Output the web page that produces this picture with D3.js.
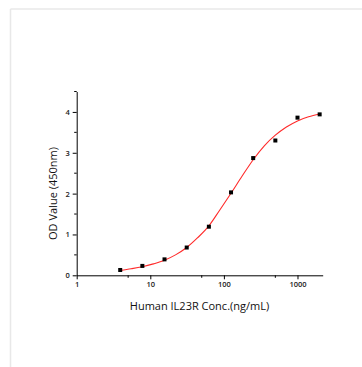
<!DOCTYPE html>
<html>
<head>
<meta charset="utf-8">
<script src="https://cdn.jsdelivr.net/npm/d3@7"></script>
<style>
  html, body { margin: 0; padding: 0; background: #fff; }
  svg { display: block; }
</style>
</head>
<body>
<div class="chart"></div>
<script>
// measured points (ng/mL, OD450)
var conc = [3.9, 7.8, 15.6, 31.25, 62.5, 125, 250, 500, 1000, 2000];
var od = [0.13, 0.23, 0.39, 0.68, 1.19, 2.03, 2.87, 3.30, 3.86, 3.94];

// fitted curve
var fitConc = [3.9, 5.5, 7.8, 11, 15.6, 22, 31.25, 44, 62.5, 88, 125, 177, 250, 354, 500, 707, 1000, 1414, 2000];
var fitOd = [0.12, 0.16, 0.21, 0.28, 0.37, 0.50, 0.68, 0.92, 1.21, 1.60, 2.01, 2.43, 2.83, 3.17, 3.43, 3.63, 3.78, 3.88, 3.95];

var xTicks = [1, 10, 100, 1000];
var xMinor = [5, 50, 500];
var yTicks = [0, 1, 2, 3, 4];
var yMinor = [0.5, 1.5, 2.5, 3.5, 4.5];

(function() {

	var width = 362, height = 367;
	var plotLeft = 76.7, plotRight = 322.7, plotTop = 91.5, plotBottom = 275.3;

	var svg = d3.select('.chart')
		.append('svg')
		.attr('width', width)
		.attr('height', height);

	// faint frame at top and left
	svg.append('line')
		.attr('x1', 10.5).attr('x2', width)
		.attr('y1', 9).attr('y2', 9)
		.attr('stroke', '#e8e8e8').attr('stroke-width', 1.5);
	svg.append('line')
		.attr('x1', 10.5).attr('x2', 10.5)
		.attr('y1', 9).attr('y2', height)
		.attr('stroke', '#e8e8e8').attr('stroke-width', 1.5);

	var xScale = d3.scaleLog()
		.domain([1, 2200])
		.range([plotLeft, plotRight]);

	var yScale = d3.scaleLinear()
		.domain([0, 4.5])
		.range([plotBottom, plotTop]);

	var xAxis = d3.axisBottom(xScale)
		.tickValues(xTicks)
		.tickFormat(d3.format('d'))
		.tickSize(4)
		.tickPadding(2)
		.tickSizeOuter(0);

	var yAxis = d3.axisLeft(yScale)
		.tickValues(yTicks)
		.tickFormat(d3.format('d'))
		.tickSize(4)
		.tickPadding(3)
		.tickSizeOuter(0);

	var gx = svg.append('g')
		.attr('class', 'x-axis')
		.attr('transform', 'translate(0,' + plotBottom + ')')
		.call(xAxis);

	gx.selectAll('.minor')
		.data(xMinor)
		.enter()
		.append('line')
		.attr('class', 'minor')
		.attr('x1', function(d) { return xScale(d); })
		.attr('x2', function(d) { return xScale(d); })
		.attr('y1', 0).attr('y2', 2.5)
		.attr('stroke', '#000');

	var gy = svg.append('g')
		.attr('class', 'y-axis')
		.attr('transform', 'translate(' + plotLeft + ',0)')
		.call(yAxis);

	gy.selectAll('.minor')
		.data(yMinor)
		.enter()
		.append('line')
		.attr('class', 'minor')
		.attr('y1', function(d) { return yScale(d); })
		.attr('y2', function(d) { return yScale(d); })
		.attr('x1', 0).attr('x2', -2.5)
		.attr('stroke', '#000');

	svg.selectAll('.x-axis text, .y-axis text')
		.attr('font-family', 'Open Sans, sans-serif')
		.attr('font-size', '7.5px')
		.attr('font-weight', 600)
		.attr('fill', '#222');

	svg.selectAll('.domain').attr('stroke', '#000');

	// fitted curve
	var line = d3.line()
		.x(function(d) { return xScale(d[0]); })
		.y(function(d) { return yScale(d[1]); })
		.curve(d3.curveMonotoneX);

	svg.append('path')
		.datum(d3.zip(fitConc, fitOd))
		.attr('d', line)
		.attr('fill', 'none')
		.attr('stroke', '#ff2a2a')
		.attr('stroke-width', 1.1);

	// data markers
	svg.selectAll('.pt')
		.data(d3.zip(conc, od))
		.enter()
		.append('rect')
		.attr('class', 'pt')
		.attr('x', function(d) { return xScale(d[0]) - 2; })
		.attr('y', function(d) { return yScale(d[1]) - 2; })
		.attr('width', 4)
		.attr('height', 4)
		.attr('fill', '#000');

	// axis titles
	svg.append('text')
		.text('Human IL23R Conc.(ng/mL)')
		.attr('x', 199.5)
		.attr('y', 310)
		.attr('text-anchor', 'middle')
		.attr('font-family', 'Open Sans, sans-serif')
		.attr('font-size', '11px')
		.attr('fill', '#111');

	svg.append('text')
		.text('OD Value (450nm)')
		.attr('transform', 'translate(57,193.5) rotate(-90)')
		.attr('text-anchor', 'middle')
		.attr('font-family', 'Open Sans, sans-serif')
		.attr('font-size', '11px')
		.attr('fill', '#111');

}());
</script>
</body>
</html>
